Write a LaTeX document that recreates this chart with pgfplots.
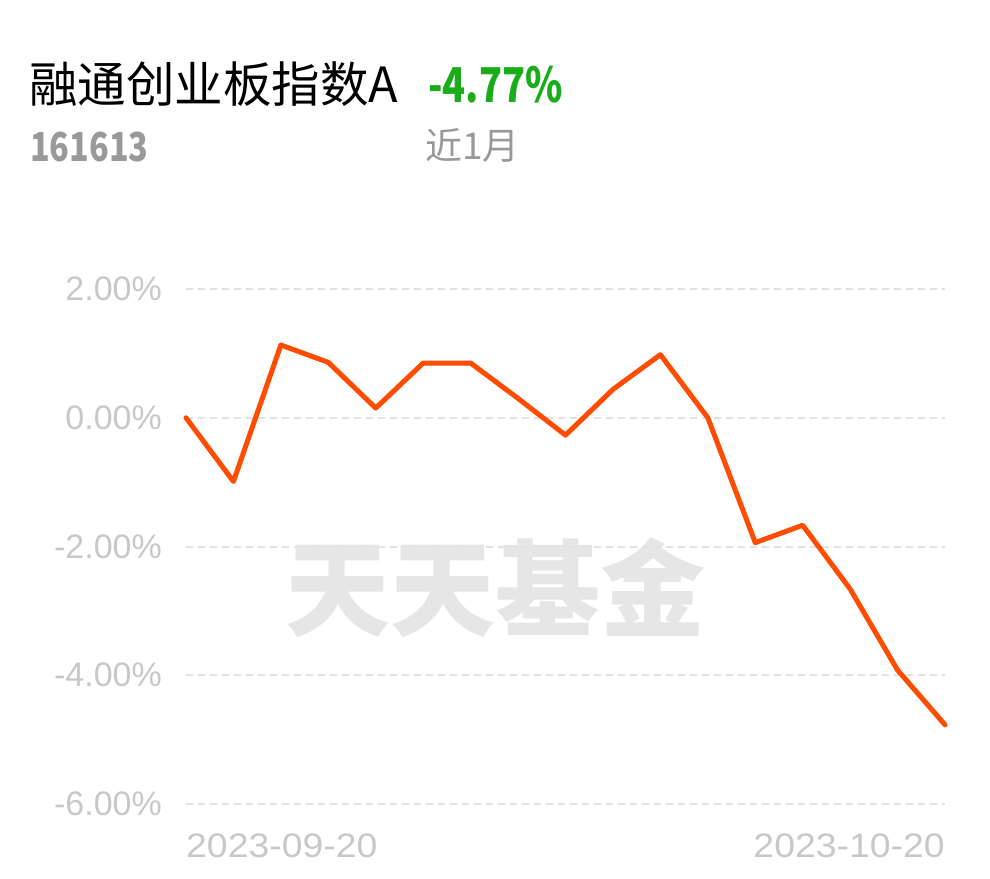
\documentclass[border=0pt]{standalone}
\usepackage{pgfplots}
\pgfplotsset{compat=1.18}
\usepackage{fontspec}
\usepackage{graphicx}
\setmainfont{Liberation Sans}
\newfontfamily\cjk{Noto Sans CJK SC}
\definecolor{lineor}{RGB}{255,76,0}
\definecolor{upgreen}{RGB}{26,173,25}
\definecolor{subgray}{RGB}{153,153,153}
\definecolor{tickgray}{RGB}{200,200,200}
\definecolor{gridgray}{RGB}{226,226,226}
\definecolor{wmgray}{RGB}{230,230,230}
\begin{document}
\begin{tikzpicture}[x=1pt,y=1pt]
\path[use as bounding box] (0,0) rectangle (990,878);
\node[anchor=center, inner sep=0, text=wmgray, font=\cjk\bfseries\fontsize{105}{105}\selectfont] at (495,290) {天天基金};
\begin{axis}[
  at={(186pt,74pt)}, anchor=south west, scale only axis,
  width=759pt, height=515pt,
  xmin=0, xmax=16, ymin=-6, ymax=2,
  clip=false,
  axis line style={draw=none},
  major tick length=0pt,
  ytick={-6,-4,-2,0,2},
  yticklabels={-6.00\%,-4.00\%,-2.00\%,0.00\%,2.00\%},
  ymajorgrids,
  major grid style={gridgray, line width=2pt, dash pattern=on 7pt off 5pt},
  yticklabel style={anchor=east, inner sep=0pt, xshift=-24pt, text=tickgray, font=\fontsize{34}{34}\selectfont},
  xtick={0},
  xticklabels={\scalebox{1.1}[1]{2023-09-20}},
  xticklabel style={anchor=north west, inner sep=0pt, yshift=-30pt, text=tickgray, font=\fontsize{34}{34}\selectfont},
  extra x ticks={16},
  extra x tick labels={\scalebox{1.1}[1]{2023-10-20}},
  extra x tick style={xticklabel style={anchor=north east}},
]
\addplot[lineor, line width=5pt, line join=round, line cap=round] coordinates {
(0,0) (1,-0.99) (2,1.13) (3,0.86) (4,0.15) (5,0.85) (6,0.85) (7,0.30) (8,-0.27)
(9,0.44) (10,0.98) (11,0.00) (12,-1.94) (13,-1.67) (14,-2.66) (15,-3.92) (16,-4.77)
};
\end{axis}
\node[anchor=base west, inner sep=0, font=\cjk\fontsize{48.5}{48.5}\selectfont] at (29,775) {融通创业板指数A};
\node[anchor=base west, inner sep=0, text=upgreen, font=\cjk\bfseries\fontsize{48}{48}\selectfont] at (428,775) {\scalebox{0.79}[1]{-4.77\%}};
\node[anchor=base west, inner sep=0, text=subgray, font=\cjk\bfseries\fontsize{40}{40}\selectfont] at (30,716) {\scalebox{0.81}[1]{161613}};
\node[anchor=base west, inner sep=0, text=subgray, font=\cjk\fontsize{37}{37}\selectfont] at (425,718) {近1月};
\end{tikzpicture}
\end{document}
